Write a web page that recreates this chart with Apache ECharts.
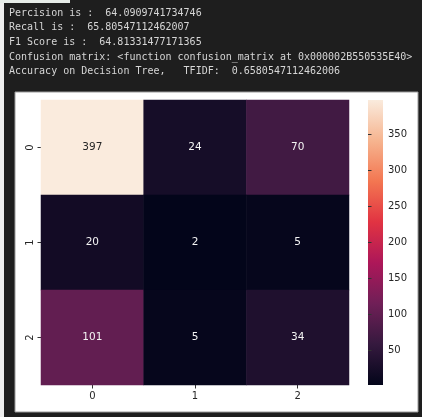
<!DOCTYPE html>
<html>
<head>
<meta charset="utf-8">
<script src="https://cdn.jsdelivr.net/npm/echarts@6/dist/echarts.min.js"></script>
<style>
html,body{margin:0;padding:0;background:#1e1e1e;}
#c{width:422px;height:417px;}
</style>
</head>
<body>
<div id="c"></div>
<script>
// ---- data ----
var xCategories = ['0', '1', '2'];
var yCategories = ['0', '1', '2'];
var matrixRows = [
  [397, 24, 70],
  [20, 2, 5],
  [101, 5, 34]
];
var colorbarTicks = [50, 100, 150, 200, 250, 300, 350];
var outputLines = [
  'Percision is :  64.0909741734746',
  'Recall is :  65.80547112462007',
  'F1 Score is :  64.81331477171365',
  'Confusion matrix: <function confusion_matrix at 0x000002B550535E40>',
  'Accuracy on Decision Tree,   TFIDF:  0.6580547112462006'
];

// ---- build ----
var flat = [];
matrixRows.forEach(function (r) { r.forEach(function (v) { flat.push(v); }); });
var vMin = Math.min.apply(null, flat);
var vMax = Math.max.apply(null, flat);

var heatData = [];
matrixRows.forEach(function (row, yi) {
  row.forEach(function (v, xi) {
    var t = (v - vMin) / (vMax - vMin);
    heatData.push({
      value: [xi, yi, v],
      label: { color: t > 0.6 ? '#262626' : '#f4f4f4' }
    });
  });
});

var rocket = ['#03051a', '#35193e', '#701f57', '#ad1759', '#e13342', '#f37651', '#f6b48f', '#faebdd'];

var graphics = [
  { type: 'rect', shape: { x: 0, y: 0, width: 4, height: 417 }, style: { fill: '#eeeeee' }, silent: true },
  { type: 'rect', shape: { x: 0, y: 0, width: 70, height: 3 }, style: { fill: '#e6ece8' }, silent: true },
  { type: 'rect', shape: { x: 15, y: 92, width: 403, height: 320 }, style: { fill: '#ffffff', stroke: '#9a9a9a', lineWidth: 1 }, z: -10, silent: true },
  {
    type: 'rect', shape: { x: 368, y: 100, width: 15, height: 285 }, silent: true,
    style: {
      fill: new echarts.graphic.LinearGradient(0, 1, 0, 0, rocket.map(function (c, i) {
        return { offset: i / (rocket.length - 1), color: c };
      }))
    }
  }
];
outputLines.forEach(function (s, i) {
  graphics.push({
    type: 'text', x: 9, y: 13 + i * 14.7,
    style: { text: s, fill: '#d6d6d6', font: '10px "DejaVu Sans Mono"', textVerticalAlign: 'middle' },
    silent: true
  });
});

var chart = echarts.init(document.getElementById('c'));
chart.setOption({
  backgroundColor: '#1e1e1e',
  animation: false,
  graphic: graphics,
  grid: [
    { left: 41, top: 100, width: 308, height: 285 },
    { left: 368, top: 100, width: 15, height: 285 }
  ],
  xAxis: [
    {
      type: 'category', data: xCategories, gridIndex: 0,
      axisLine: { show: false },
      axisTick: { show: true, alignWithLabel: true, length: 3.5, lineStyle: { color: '#333' } },
      axisLabel: { color: '#262626', fontSize: 10, fontFamily: 'DejaVu Sans', margin: 6 },
      splitLine: { show: false }
    },
    { type: 'value', gridIndex: 1, show: false, min: 0, max: 1 }
  ],
  yAxis: [
    {
      type: 'category', data: yCategories, gridIndex: 0, inverse: true,
      axisLine: { show: false },
      axisTick: { show: true, alignWithLabel: true, length: 3.5, lineStyle: { color: '#333' } },
      axisLabel: { color: '#262626', fontSize: 10, fontFamily: 'DejaVu Sans', rotate: 90, margin: 6 },
      splitLine: { show: false }
    },
    {
      type: 'value', gridIndex: 1, position: 'right', min: vMin, max: vMax,
      axisLine: { show: false },
      splitLine: { show: false },
      axisTick: { show: true, length: 3.5, customValues: colorbarTicks, lineStyle: { color: '#333' } },
      axisLabel: { show: true, color: '#262626', fontSize: 10, fontFamily: 'DejaVu Sans', margin: 5, customValues: colorbarTicks }
    }
  ],
  visualMap: {
    type: 'continuous',
    show: false,
    min: vMin, max: vMax,
    seriesIndex: 0,
    inRange: { color: rocket }
  },
  series: [{
    type: 'heatmap',
    xAxisIndex: 0, yAxisIndex: 0,
    data: heatData,
    label: { show: true, fontSize: 10.5, fontFamily: 'DejaVu Sans' },
    itemStyle: { borderWidth: 0 },
    emphasis: { disabled: true }
  }]
});
</script>
</body>
</html>
